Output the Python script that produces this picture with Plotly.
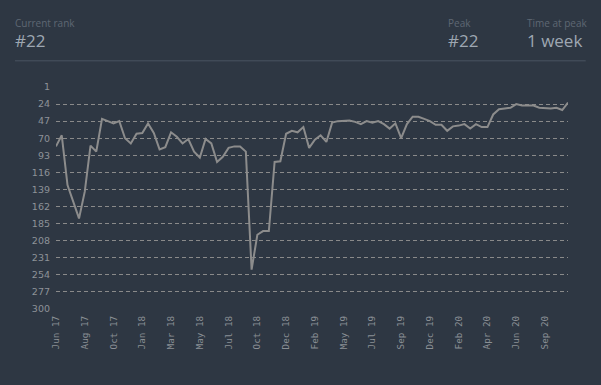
import plotly.graph_objects as go

# ---- data ----
ranks = [81, 66, 133, 157, 178, 142, 80, 88, 44, 47,
         50, 47, 70, 77, 64, 63, 50, 63, 85, 82,
         62, 68, 77, 71, 88, 96, 71, 77, 102, 95,
         83, 81, 81, 88, 247, 200, 195, 195, 102, 101,
         64, 60, 62, 55, 83, 72, 66, 75, 49, 47,
         47, 46, 48, 51, 47, 49, 47, 51, 57, 50,
         70, 51, 41, 41, 44, 47, 52, 52, 60, 54,
         53, 51, 57, 51, 55, 55, 38, 31, 30, 29,
         24, 26, 26, 26, 29, 30, 30, 29, 32, 22]
tick_labels = ["Jun 17", "Aug 17", "Oct 17", "Jan 18", "Mar 18", "May 18",
               "Jul 18", "Oct 18", "Dec 18", "Feb 19", "May 19", "Jul 19",
               "Sep 19", "Dec 19", "Feb 20", "Apr 20", "Jun 20", "Sep 20"]
label_every = 5
y_ticks = [1, 24, 47, 70, 93, 116, 139, 162, 185, 208, 231, 254, 277, 300]

current_rank = "#22"
peak = "#22"
time_at_peak = "1 week"

# ---- layout constants ----
W, H = 601, 385
ML, MR, MT, MB = 56, 32.7, 87.2, 75.6
BG = "#2e3743"

x = list(range(len(ranks)))
tickvals = [i * label_every for i in range(len(tick_labels))]

def px(xp):
    return (xp - ML) / (W - ML - MR)

def py(yp):
    return 1 - (yp - MT) / (H - MT - MB)

fig = go.Figure()
fig.add_trace(go.Scatter(
    x=x, y=ranks, mode="lines",
    line=dict(color="#8c8c8c", width=2),
    hoverinfo="skip", showlegend=False,
))
# invisible trace on the grid axis so it renders
fig.add_trace(go.Scatter(
    x=[x[0]], y=[ranks[0]], yaxis="y2", mode="lines",
    line=dict(width=0), hoverinfo="skip", showlegend=False,
))

fig.update_layout(
    width=W, height=H,
    paper_bgcolor=BG, plot_bgcolor=BG,
    margin=dict(l=ML, r=MR, t=MT, b=MB, pad=0),
    xaxis=dict(
        range=[0, len(ranks) - 1], tickvals=tickvals, ticktext=tick_labels,
        tickangle=-90, showgrid=False, zeroline=False, showline=False,
        ticks="", tickfont=dict(family="DejaVu Sans Mono", size=9.3, color="#8a8f95"),
        ticklabelstandoff=4,
    ),
    yaxis=dict(
        range=[300, 1], tickvals=y_ticks, ticktext=[str(v) for v in y_ticks],
        showgrid=False, zeroline=False, showline=False, ticks="",
        tickfont=dict(family="DejaVu Sans", size=9.5, color="#8d9298"),
        ticklabelstandoff=5,
    ),
    yaxis2=dict(
        range=[300, 1], overlaying="y", tickvals=y_ticks[1:-1],
        showticklabels=False, showgrid=True, gridcolor="#8a8a8a",
        griddash="4px,3px", gridwidth=1, zeroline=False, showline=False,
        ticks="", layer="below traces",
    ),
)

def ann(text, xp, yp, size, color):
    fig.add_annotation(
        text=text, xref="paper", yref="paper", x=px(xp), y=py(yp),
        xanchor="left", yanchor="middle", showarrow=False, borderpad=0,
        font=dict(family="Open Sans", size=size, color=color),
    )

LBL = "#5e6773"
VAL = "#9ea7b2"
ann("Current rank", 14, 23.5, 10, LBL)
ann(current_rank, 14, 41, 17, VAL)
ann("Peak", 447, 23.5, 10, LBL)
ann(peak, 447, 41, 17, VAL)
ann("Time at peak", 526, 23.5, 10, LBL)
ann(time_at_peak, 526, 41, 17, VAL)

fig.add_shape(type="line", xref="paper", yref="paper",
              x0=px(15), x1=px(586), y0=py(61), y1=py(61),
              line=dict(color="#4a5461", width=1))

fig.write_html(
    "out.html",
    config={"displayModeBar": False},
    post_script="document.body.style.margin='0';document.body.style.padding='0';"
                "document.body.style.background='" + BG + "';",
)
